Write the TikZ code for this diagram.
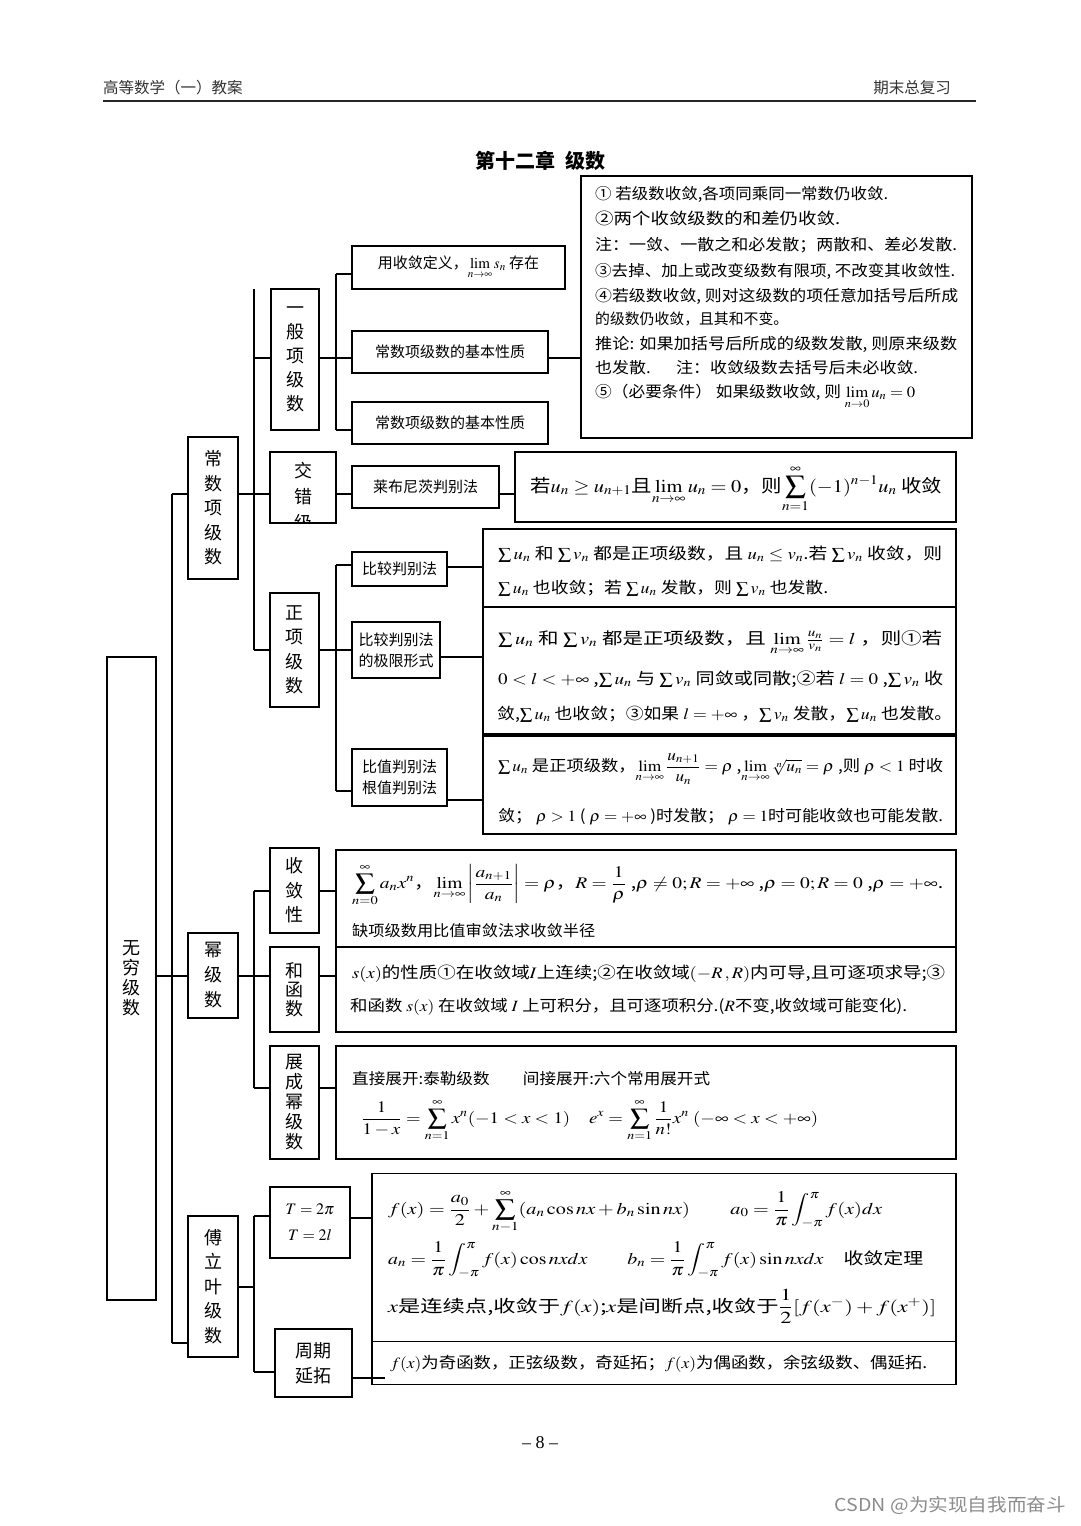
\documentclass[tikz,border=0pt]{standalone}
\usepackage{graphicx}
\usepackage{amsmath}
\usepackage{mathptmx}
\usepackage{fontspec}
\setmainfont{Liberation Serif}
\newfontfamily\cjk{Noto Sans CJK SC}
\newsavebox\fitbox
\newcommand\fitto[2]{\sbox\fitbox{#2}\pgfmathsetmacro\fitx{#1/\wd\fitbox}\pgfmathsetmacro\fity{pow(\fitx,0.3)}\scalebox{\fitx}[\fity]{\usebox\fitbox}}
\tikzset{
  bx/.style={draw, line width=1.4pt, inner sep=0pt, outer sep=0pt},
  ln/.style={line width=1.3pt},
  vt/.style={align=center, font=\cjk\fontsize{18}{#1}\selectfont},
  tx/.style={anchor=base west, inner sep=0pt, font=\cjk\fontsize{15}{15}\selectfont},
  lbl/.style={align=center, font=\cjk\fontsize{15}{21}\selectfont},
}
\begin{document}
\begin{tikzpicture}[x=1pt,y=-1pt]
\fill[white] (0,0) rectangle (1080,1526);
\useasboundingbox (0,0) rectangle (1080,1526);

% header
\node[anchor=west, inner sep=0pt, font=\cjk\fontsize{15.5}{16}\selectfont, text=black!80] (hdl) at (103,88) {高等数学（一）教案};
\node[anchor=east, inner sep=0pt, font=\cjk\fontsize{15.5}{16}\selectfont, text=black!80] (hdr) at (951,88) {期末总复习};
\coordinate (hla) at (103,101);
\coordinate (hlb) at (976,101);
\draw[line width=1.6pt, black!85] (hla) -- (hlb);
\node[font=\cjk\bfseries\fontsize{20}{20}\selectfont] (ttl) at (540,161) {第十二章\hspace{0.5em}级数};

% ---- tree boxes ----
\node[bx, minimum width=49, minimum height=643, vt=20] (wq) at (131.5,978.5) {无\\穷\\级\\数};
\node[bx, minimum width=50, minimum height=142, vt=24.5] (cs) at (213,508) {常\\数\\项\\级\\数};
\node[bx, minimum width=50, minimum height=85, vt=25] (mj) at (213,975.5) {幂\\级\\数};
\node[bx, minimum width=50, minimum height=141, vt=24.5] (fl) at (213,1286.5) {傅\\立\\叶\\级\\数};

\node[bx, minimum width=48, minimum height=141, vt=24] (yb) at (295,359.5) {一\\般\\项\\级\\数};
\node[bx, minimum width=66, minimum height=71] (jc) at (303,487.5) {};
\begin{scope}
\clip (jc.south west) rectangle (jc.north east);
\node[vt=26, inner sep=0pt] (jct) at (303,497) {交\\错\\级};
\end{scope}
\node[bx, minimum width=49, minimum height=114, vt=24.5] (zx) at (294.5,650) {正\\项\\级\\数};

\node[bx, minimum width=213, minimum height=43, lbl] (yd) at (458.5,267.5) {用收敛定义，$\lim\limits_{n\to\infty}s_n$ 存在};
\node[bx, minimum width=196, minimum height=42, lbl] (jb1) at (450,352) {常数项级数的基本性质};
\node[bx, minimum width=196, minimum height=42, lbl] (jb2) at (450,423) {常数项级数的基本性质};
\node[bx, minimum width=391, minimum height=262] (big1) at (776.5,307) {};
\node[bx, minimum width=147, minimum height=42, lbl] (lb) at (425.5,487) {莱布尼茨判别法};
\node[bx, minimum width=441, minimum height=70] (lbf) at (735.5,487) {};
\node[bx, minimum width=95, minimum height=34, lbl] (bj1) at (399.5,569) {比较判别法};
\node[bx, minimum width=88, minimum height=56, lbl] (bj2) at (396,650) {比较判别法\\的极限形式};
\node[bx, minimum width=95, minimum height=57, lbl] (bz) at (399.5,777.5) {比值判别法\\根值判别法};
\node[bx, minimum width=473, minimum height=78] (fa) at (719.5,568) {};
\node[bx, minimum width=473, minimum height=127] (fb) at (719.5,670.5) {};
\node[bx, minimum width=473, minimum height=98] (fc) at (719.5,785) {};

\node[bx, minimum width=49, minimum height=85, vt=24.5] (sl) at (294.5,890.5) {收\\敛\\性};
\node[bx, minimum width=49, minimum height=85, vt=19] (hh) at (294.5,989.5) {和\\函\\数};
\node[bx, minimum width=49, minimum height=113, vt=20] (zk) at (294.5,1102.5) {展\\成\\幂\\级\\数};
\node[bx, minimum width=620, minimum height=97] (sf1) at (646,898.5) {};
\node[bx, minimum width=620, minimum height=85] (sf2) at (646,989.5) {};
\node[bx, minimum width=620, minimum height=113] (sf3) at (646,1102.5) {};

\node[bx, minimum width=80, minimum height=71, align=center, font=\fontsize{16}{26}\selectfont] (tb) at (310,1222.5) {$T=2\pi$\\$T=2l$};
\node[bx, minimum width=77, minimum height=68, vt=25] (zq) at (313.5,1363) {周期\\延拓};
\node[bx, minimum width=584, minimum height=168] (ff1) at (664,1257.5) {};
\node[bx, minimum width=584, minimum height=43] (ff2) at (664,1363) {};

% ---- connectors ----
\coordinate (T1a) at (172,494);
\coordinate (T1b) at (172,1343);
\coordinate (W) at (172,976);
\draw[ln] (T1a) -- (T1b);
\draw[ln] (T1a) -- (cs.west |- T1a);
\draw[ln] (wq.east |- W) -- (mj.west |- W);
\draw[ln] (T1b) -- (fl.west |- T1b);

\coordinate (T2a) at (254,289);
\coordinate (T2b) at (254,650);
\coordinate (Y) at (254,358);
\draw[ln] (T2a) -- (T2b);
\draw[ln] (Y) -- (yb.west |- Y);
\draw[ln] (cs.east |- T1a) -- (jc.west |- T1a);
\draw[ln] (T2b) -- (zx.west |- T2b);

\coordinate (T3a) at (336,274);
\coordinate (T3b) at (336,430);
\draw[ln] (T3a) -- (T3b);
\draw[ln] (T3a) -- (yd.west |- T3a);
\draw[ln] (yb.east |- Y) -- (jb1.west |- Y);
\draw[ln] (T3b) -- (jb2.west |- T3b);
\draw[ln] (jb1.east |- Y) -- (big1.west |- Y);

\draw[ln] (jc.east |- T1a) -- (lb.west |- T1a);
\draw[ln] (lb.east |- T1a) -- (lbf.west |- T1a);

\coordinate (T4a) at (336,565);
\coordinate (T4b) at (336,791);
\draw[ln] (T4a) -- (T4b);
\draw[ln] (T4a) -- (bj1.west |- T4a);
\draw[ln] (zx.east |- T2b) -- (bj2.west |- T2b);
\draw[ln] (T4b) -- (bz.west |- T4b);
\coordinate (C1) at (0,567);
\coordinate (C2) at (0,657);
\coordinate (C3) at (0,800);
\draw[ln] (bj1.east |- C1) -- (fa.west |- C1);
\draw[ln] (bj2.east |- C2) -- (fb.west |- C2);
\draw[ln] (bz.east |- C3) -- (fc.west |- C3);

\coordinate (T5a) at (254,891);
\coordinate (T5b) at (254,1088);
\draw[ln] (T5a) -- (T5b);
\draw[ln] (T5a) -- (sl.west |- T5a);
\draw[ln] (mj.east |- W) -- (hh.west |- W);
\draw[ln] (T5b) -- (zk.west |- T5b);
\draw[ln] (sl.east |- T5a) -- (sf1.west |- T5a);
\draw[line width=2.6pt] (hh.east |- W) -- (sf2.west |- W);
\draw[ln] (zk.east |- T5b) -- (sf3.west |- T5b);

\coordinate (T6a) at (254,1216);
\coordinate (T6b) at (254,1372);
\coordinate (F) at (0,1287);
\draw[ln] (fl.east |- F) -- (T6a |- F);
\draw[ln] (T6a) -- (T6b);
\draw[ln] (T6a) -- (tb.west |- T6a);
\draw[ln] (T6b) -- (zq.west |- T6b);
\coordinate (F1) at (0,1218);
\coordinate (F2) at (385,1378);
\draw[ln] (tb.east |- F1) -- (ff1.west |- F1);
\draw[ln] (zq.east |- F2) -- (F2);

% ---- big box text ----
\node[tx] (g1) at (595,199) {\fitto{293}{①\ 若级数收敛,各项同乘同一常数仍收敛.}};
\node[tx] (g2) at (595,224) {\fitto{245}{②两个收敛级数的和差仍收敛.}};
\node[tx] (g3) at (595,250) {\fitto{362}{注：一敛、一散之和必发散；两散和、差必发散.}};
\node[tx] (g4) at (595,276) {\fitto{360}{③去掉、加上或改变级数有限项, 不改变其收敛性.}};
\node[tx] (g5) at (595,301) {\fitto{363}{④若级数收敛, 则对这级数的项任意加括号后所成}};
\node[tx] (g6) at (595,324) {\fitto{193}{的级数仍收敛，且其和不变。}};
\node[tx] (g7) at (595,349) {\fitto{362}{推论: 如果加括号后所成的级数发散, 则原来级数}};
\node[tx] (g8) at (595,373) {\fitto{323}{也发散.\hspace{1.5em}注：收敛级数去括号后未必收敛.}};
\node[tx] (g9) at (595,397) {\fitto{320}{⑤（必要条件）\ 如果级数收敛, 则 $\lim\limits_{n\to 0}u_n=0$}};

% ---- alternating ----
\node[tx, font=\cjk\fontsize{17}{17}\selectfont] (lbt) at (530,492) {\fitto{412}{若$u_n\ge u_{n+1}$且$\lim\limits_{n\to\infty}u_n=0$，则$\displaystyle\sum_{n=1}^{\infty}(-1)^{n-1}u_n$\ 收敛}};

% ---- positive series ----
\node[tx] (a1) at (498,559) {\fitto{444}{$\sum u_n$ 和 $\sum v_n$ 都是正项级数，且 $u_n\le v_n$.若 $\sum v_n$ 收敛，则}};
\node[tx] (a2) at (498,593) {\fitto{330}{$\sum u_n$ 也收敛；若 $\sum u_n$ 发散，则 $\sum v_n$ 也发散.}};
\node[tx] (b1) at (498,644) {\fitto{444}{$\sum u_n$ 和 $\sum v_n$ 都是正项级数，且 $\lim\limits_{n\to\infty}\frac{u_n}{v_n}=l$ ，则①若}};
\node[tx] (b2) at (498,684) {\fitto{445}{$0<l<+\infty$ ,$\sum u_n$ 与 $\sum v_n$ 同敛或同散;②若 $l=0$ ,$\sum v_n$ 收}};
\node[tx] (b3) at (497,719) {\fitto{455}{敛,$\sum u_n$ 也收敛；③如果 $l=+\infty$ ，$\sum v_n$ 发散，$\sum u_n$ 也发散。}};
\node[tx] (c1) at (498,771) {\fitto{445}{$\sum u_n$ 是正项级数，$\lim\limits_{n\to\infty}\dfrac{u_{n+1}}{u_n}=\rho$ ,$\lim\limits_{n\to\infty}\sqrt[n]{u_n}=\rho$ ,则 $\rho<1$ 时收}};
\node[tx] (c2) at (498,821) {\fitto{445}{敛； $\rho>1$ ( $\rho=+\infty$ )时发散； $\rho=1$时可能收敛也可能发散.}};

% ---- power series ----
\node[tx] (s1) at (352,888) {\fitto{591}{$\displaystyle\sum_{n=0}^{\infty}a_nx^n$，$\displaystyle\lim_{n\to\infty}\left|\frac{a_{n+1}}{a_n}\right|=\rho$，$\displaystyle R=\frac{1}{\rho}$ ,$\rho\ne0;R=+\infty$ ,$\rho=0;R=0$ ,$\rho=+\infty$.}};
\node[tx] (s2) at (352,936) {\fitto{243}{缺项级数用比值审敛法求收敛半径}};
\node[tx] (s3) at (352,978) {\fitto{593}{$s(x)$的性质①在收敛域$I$上连续;②在收敛域$(-R\,,R)$内可导,且可逐项求导;③}};
\node[tx] (s4) at (350,1011) {\fitto{557}{和函数 $s(x)$ 在收敛域 $I$ 上可积分，且可逐项积分.($R$不变,收敛域可能变化).}};
\node[tx] (s5) at (352,1084) {\fitto{358}{直接展开:泰勒级数\hspace{2em}间接展开:六个常用展开式}};
\node[tx] (s6) at (361,1123) {\fitto{457}{$\displaystyle\frac{1}{1-x}=\sum_{n=1}^{\infty}x^n(-1<x<1)\quad e^x=\sum_{n=1}^{\infty}\frac{1}{n!}x^n\ (-\infty<x<+\infty)$}};

% ---- Fourier ----
\node[tx] (f1) at (388,1214) {\fitto{494}{$\displaystyle f(x)=\frac{a_0}{2}+\sum_{n-1}^{\infty}(a_n\cos nx+b_n\sin nx)\qquad a_0=\frac{1}{\pi}\int_{-\pi}^{\pi}f(x)dx$}};
\node[tx] (f2) at (388,1264) {\fitto{535}{$\displaystyle a_n=\frac{1}{\pi}\int_{-\pi}^{\pi}f(x)\cos nxdx\qquad b_n=\frac{1}{\pi}\int_{-\pi}^{\pi}f(x)\sin nxdx$\quad 收敛定理}};
\node[tx] (f3) at (388,1312) {\fitto{548}{$x$是连续点,收敛于$f(x)$;$x$是间断点,收敛于$\dfrac{1}{2}[f(x^-)+f(x^+)]$}};
\node[tx] (f4) at (390,1368) {\fitto{537}{$f(x)$为奇函数，正弦级数，奇延拓；$f(x)$为偶函数，余弦级数、偶延拓.}};

% ---- footer ----
\node[font=\fontsize{18}{18}\selectfont] (pg) at (540,1443) {-- 8 --};
\node[anchor=east, inner sep=0pt, text=black!45, font=\cjk\fontsize{17}{17}\selectfont] (wm) at (1066,1506) {\fitto{231}{CSDN @为实现自我而奋斗}};
\end{tikzpicture}
\end{document}
